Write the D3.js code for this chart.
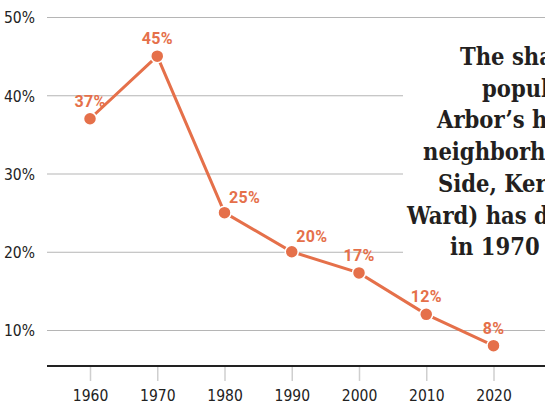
<!DOCTYPE html>
<html>
<head>
<meta charset="utf-8">
<script src="https://cdn.jsdelivr.net/npm/d3@7"></script>
<style>
  html, body { margin: 0; padding: 0; background: #fff; }
  svg { display: block; }
  .title { font-family: "DejaVu Serif Condensed", "DejaVu Serif", serif; font-stretch: condensed; font-weight: bold; font-size: 23.5px; fill: #231f20; }
  .lbl { font-family: Roboto, sans-serif; font-weight: bold; font-size: 16px; fill: #e5704a; letter-spacing: 0.3px; }
</style>
</head>
<body>
<script>
// data
var years = [1960, 1970, 1980, 1990, 2000, 2010, 2020];
var shares = [37, 45, 25, 20, 17.3, 12, 8];
var yTicks = [10, 20, 30, 40, 50];
var titleLines = [
  "The share of Black",
  "population in Ann",
  "Arbor\u2019s historically Black",
  "neighborhoods (North",
  "Side, Kerrytown, Old Fourth",
  "Ward) has dropped since its peak",
  "in 1970"
];

var W = 545, H = 406;
var orange = "#e5704a";
var tickFont = "'Liberation Sans Narrow', 'Arial Narrow', 'DejaVu Sans Condensed', sans-serif";

var svg = d3.select("body").append("svg")
    .attr("width", W)
    .attr("height", H);

var x = d3.scaleLinear().domain([1960, 2020]).range([90, 493.5]);
var y = d3.scaleLinear().domain([5.4, 50]).range([366, 17]);

var data = years.map(function(d, i) { return {year: d, value: shares[i]}; });

// gridlines + y labels
var yAxis = svg.append("g")
    .attr("transform", "translate(47,0)")
    .call(d3.axisLeft(y).tickValues(yTicks).tickSize(-(W - 47)).tickPadding(12)
      .tickFormat(function(d) { return d + "%"; }));
yAxis.select(".domain").remove();
yAxis.selectAll(".tick line").attr("stroke", "#b5b5b5").attr("stroke-width", 1);
yAxis.selectAll(".tick text")
    .attr("dy", "0.38em")
    .style("font-family", tickFont)
    .style("font-size", "15.5px")
    .style("fill", "#222");

// title box sits over the gridlines
svg.append("rect")
    .attr("x", 403).attr("y", 30)
    .attr("width", W - 403).attr("height", 236)
    .attr("fill", "#fff");

var titleX = [460, 482, 437, 423, 438, 407, 450];
svg.append("g").selectAll("text")
  .data(titleLines)
  .join("text")
    .attr("class", "title")
    .attr("x", function(d, i) { return titleX[i]; })
    .attr("y", function(d, i) { return 65 + i * 31.7; })
    .text(function(d) { return d; });

// x axis
var xAxis = svg.append("g")
    .attr("transform", "translate(0,366)")
    .call(d3.axisBottom(x).tickValues(years).tickSize(15).tickPadding(9)
      .tickFormat(d3.format("d")));
xAxis.select(".domain").remove();
xAxis.selectAll(".tick line").attr("stroke", "#cfcfcf").attr("stroke-width", 1.5);
xAxis.selectAll(".tick text")
    .style("font-family", tickFont)
    .style("font-size", "15.5px")
    .style("fill", "#222");

svg.append("line")
    .attr("x1", 47).attr("x2", W)
    .attr("y1", 366).attr("y2", 366)
    .attr("stroke", "#222").attr("stroke-width", 2);

// the line
var line = d3.line()
    .x(function(d) { return x(d.year); })
    .y(function(d) { return y(d.value); });

svg.append("path")
    .datum(data)
    .attr("fill", "none")
    .attr("stroke", orange)
    .attr("stroke-width", 3)
    .attr("d", line);

svg.append("g").selectAll("circle")
  .data(data)
  .join("circle")
    .attr("cx", function(d) { return x(d.year); })
    .attr("cy", function(d) { return y(d.value); })
    .attr("r", 6.5)
    .attr("fill", orange)
    .attr("stroke", "#fff")
    .attr("stroke-width", 1.5);

// value labels, the steep drop pushes 1980/1990 to the right
svg.append("g").selectAll("text")
  .data(data)
  .join("text")
    .attr("class", "lbl")
    .attr("text-anchor", "middle")
    .attr("x", function(d) {
      return x(d.year) + ((d.year === 1980 || d.year === 1990) ? 20 : 0);
    })
    .attr("y", function(d) {
      return y(d.value) - ((d.year === 1980 || d.year === 1990) ? 10 : 12);
    })
    .text(function(d) { return Math.round(d.value) + "%"; });
</script>
</body>
</html>
